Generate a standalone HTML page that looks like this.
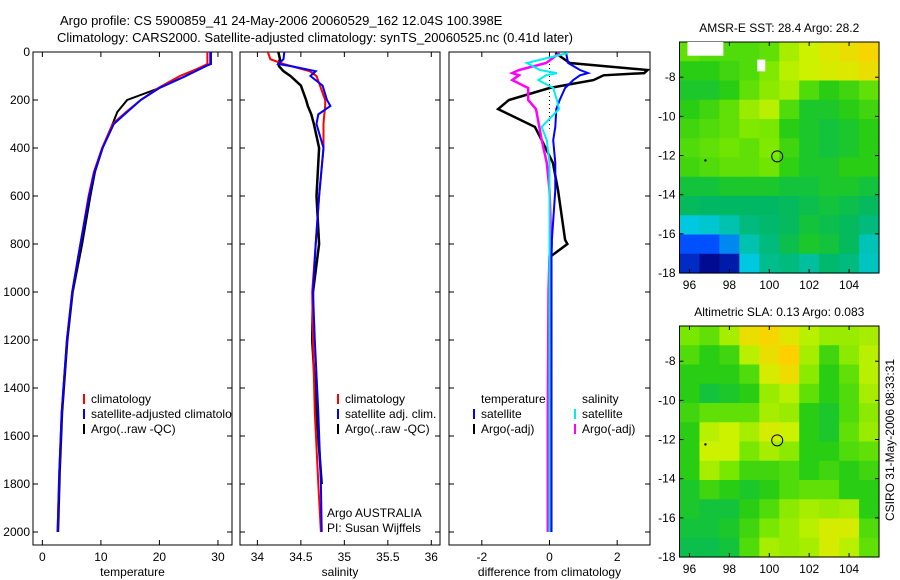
<!DOCTYPE html>
<html><head><meta charset="utf-8"><style>
body{margin:0;background:#fff}
svg{display:block;font-family:"Liberation Sans",sans-serif}
</style></head><body>
<svg id="fig" width="900" height="580" xmlns="http://www.w3.org/2000/svg">
<rect width="900" height="580" fill="#fff"/>
<text x="60" y="25" font-size="13">Argo profile: CS 5900859_41 24-May-2006 20060529_162 12.04S 100.398E</text>
<text x="57" y="42" font-size="13">Climatology: CARS2000. Satellite-adjusted climatology: synTS_20060525.nc (0.41d later)</text>
<defs>
<clipPath id="c1"><rect x="33" y="52" width="199" height="493"/></clipPath>
<clipPath id="c2"><rect x="240" y="52" width="200" height="493"/></clipPath>
<clipPath id="c3"><rect x="449" y="52" width="201" height="493"/></clipPath>
</defs>
<g id="plots"></g>
<text transform="translate(894,440) rotate(-90)" text-anchor="middle" font-size="12">CSIRO 31-May-2006 08:33:31</text>
</svg>
<script>
// ---------- data ----------
const depthT=[0,50,70,100,150,200,250,300,400,500,600,800,1000,1200,1500,1750,2000];
const tempClim=[28.2,28.2,26.5,23.5,19.8,16.8,14.3,12,10.2,8.8,7.9,6.5,5.1,4.2,3.3,2.9,2.6];
const tempSat=[28.7,28.7,27,24.5,20,16.8,14.5,12.2,10.3,8.9,8.0,6.5,5.1,4.2,3.3,2.9,2.6];
const tempArgo=[28.8,28.8,26.5,24.5,20,14.5,12.8,12,10.3,9,8.2,6.8,5.2,4.3,3.4,3.0,2.7];
const depthS=[0,30,50,60,80,100,140,200,225,260,300,400,600,800,1000,1200,1500,1800,2000];
const salClim=[34.12,34.15,34.3,34.4,34.6,34.68,34.72,34.78,34.78,34.77,34.76,34.76,34.71,34.67,34.63,34.64,34.66,34.7,34.73];
const salSat=[34.31,34.3,34.24,34.4,34.67,34.61,34.75,34.8,34.84,34.7,34.68,34.76,34.71,34.67,34.64,34.66,34.7,34.73,34.74];
const salArgo=[34.24,34.26,34.24,34.25,34.3,34.38,34.5,34.56,34.58,34.62,34.65,34.71,34.68,34.71,34.64,34.63,34.68,34.74,null];
const depthD=[4,46,75,88,97,117,150,200,238,312,367,462,575,783,800,850,1000,1500,2000];
const dTempArgo=[0.17,0.6,2.9,2.8,1.6,1.3,0,-1.2,-1.52,-0.43,-0.23,0.1,0.25,0.46,0.53,0.05,0.05,0.05,0.05];
const dTempSat=[0.49,0.55,0.9,1.14,0.9,0.7,0.46,0.3,0.2,0.17,0.11,0.17,0.17,0.07,0.07,0.06,0.05,0.05,0.05];
const dSalArgo=[0.3,-0.1,-0.9,-1.1,-0.9,-1.1,-0.63,-0.63,-0.4,-0.3,-0.23,-0.08,0,0.05,0.05,0,-0.03,-0.05,-0.05];
const dSalSat=[0.55,-0.67,-0.28,0.22,-0.1,-0.33,0.11,0.22,0.28,-0.23,-0.08,0,0,0,0,0,0,0,0];
const depthTicks=[0,200,400,600,800,1000,1200,1400,1600,1800,2000];
const tempTicks=[0,10,20,30], salTicks=[34,34.5,35,35.5,36], diffTicks=[-2,0,2];
const lonTicks=[96,98,100,102,104], latTicks=[-8,-10,-12,-14,-16,-18];
const sstGrid=[
[0.62,0.6,0.6,0.6,0.62,0.72,0.78,0.82,0.85,0.88],
[0.55,0.55,0.58,0.6,0.66,0.75,0.78,0.8,0.82,0.85],
[0.52,0.52,0.55,0.62,0.68,0.72,0.6,0.55,0.58,0.62],
[0.55,0.58,0.62,0.7,0.75,0.6,0.52,0.52,0.55,0.58],
[0.58,0.6,0.62,0.66,0.65,0.55,0.52,0.5,0.52,0.55],
[0.6,0.62,0.64,0.62,0.66,0.58,0.52,0.5,0.52,0.55],
[0.58,0.6,0.62,0.62,0.64,0.56,0.52,0.52,0.55,0.55],
[0.5,0.5,0.52,0.52,0.52,0.5,0.5,0.52,0.52,0.5],
[0.46,0.45,0.45,0.45,0.45,0.46,0.48,0.5,0.48,0.46],
[0.3,0.32,0.36,0.42,0.44,0.46,0.5,0.48,0.46,0.42],
[0.15,0.15,0.22,0.36,0.42,0.48,0.52,0.5,0.46,0.35],
[0.08,0.02,0.05,0.3,0.4,0.42,0.38,0.44,0.42,0.34]];
const slaGrid=[
[0.65,0.62,0.72,0.85,0.88,0.82,0.75,0.7,0.7,0.72],
[0.6,0.55,0.58,0.75,0.85,0.9,0.72,0.58,0.68,0.75],
[0.55,0.55,0.55,0.6,0.8,0.86,0.68,0.55,0.62,0.75],
[0.55,0.5,0.52,0.55,0.7,0.75,0.62,0.55,0.6,0.72],
[0.58,0.62,0.62,0.62,0.72,0.7,0.55,0.52,0.6,0.68],
[0.55,0.75,0.78,0.72,0.8,0.78,0.55,0.52,0.62,0.7],
[0.55,0.78,0.78,0.65,0.72,0.68,0.55,0.55,0.6,0.62],
[0.55,0.72,0.65,0.58,0.58,0.6,0.55,0.58,0.55,0.58],
[0.52,0.58,0.55,0.52,0.55,0.6,0.62,0.62,0.55,0.55],
[0.52,0.5,0.5,0.55,0.6,0.68,0.72,0.7,0.72,0.55],
[0.5,0.5,0.52,0.58,0.65,0.7,0.75,0.8,0.8,0.6],
[0.48,0.48,0.5,0.6,0.72,0.7,0.72,0.8,0.75,0.62]];
const argoLon=100.398, argoLat=-12.04;

// ---------- helpers ----------
const NS='http://www.w3.org/2000/svg';
const root=document.getElementById('plots');
function mk(tag,attrs,parent){const e=document.createElementNS(NS,tag);for(const k in attrs)e.setAttribute(k,attrs[k]);(parent||root).appendChild(e);return e;}
const yTop=52,yBot=545,dMax=(yBot-yTop)/0.24;
const yD=d=>yTop+d*(yBot-yTop)/dMax;
function xScale(x0,x1,v0,v1){return v=>x0+(v-v0)*(x1-x0)/(v1-v0);}
const panels=[
 {x0:33,x1:232,v0:-1.6,v1:32.4,ticks:tempTicks,label:'temperature',clip:'c1',name:'temperature-panel'},
 {x0:240,x1:440,v0:33.8,v1:36.1,ticks:salTicks,label:'salinity',clip:'c2',name:'salinity-panel'},
 {x0:449,x1:650,v0:-2.97,v1:2.97,ticks:diffTicks,label:'difference from climatology',clip:'c3',name:'difference-panel'}];
panels.forEach((p,i)=>{
 p.x=xScale(p.x0,p.x1,p.v0,p.v1);
 const g=mk('g',{});
 
 
 p.g=g;
 const fr=mk('rect',{x:p.x0,y:yTop,width:p.x1-p.x0,height:yBot-yTop,fill:'none',stroke:'#000','stroke-width':1},g);
 
 
 p.ticks.forEach(t=>{const X=p.x(t);
  mk('line',{x1:X,x2:X,y1:yBot,y2:yBot-5,stroke:'#000'},g);
  mk('line',{x1:X,x2:X,y1:yTop,y2:yTop+5,stroke:'#000'},g);
  const tl=mk('text',{x:X,y:yBot+16,'text-anchor':'middle','font-size':12},g);tl.textContent=t;
  
  
 });
 depthTicks.forEach(d=>{const Y=yD(d);
  mk('line',{x1:p.x0,x2:p.x0+5,y1:Y,y2:Y,stroke:'#000'},g);
  mk('line',{x1:p.x1,x2:p.x1-5,y1:Y,y2:Y,stroke:'#000'},g);
  if(i===0){const tl=mk('text',{x:p.x0-3,y:Y+4,'text-anchor':'end','font-size':12},g);tl.textContent=d;
   
   }
 });
 const xl=mk('text',{x:(p.x0+p.x1)/2,y:yBot+31,'text-anchor':'middle','font-size':12},g);xl.textContent=p.label;
 
 
});
function line(p,xs,ds,color,name,w,dash){
 let pts=[];xs.forEach((v,k)=>{if(v!==null)pts.push(p.x(v).toFixed(1)+','+yD(ds[k]).toFixed(1));});
 const pl=mk('polyline',{points:pts.join(' '),fill:'none',stroke:color,'stroke-width':w||2,'clip-path':'url(#'+p.clip+')'},p.g);
 if(dash)pl.setAttribute('stroke-dasharray',dash);
 
 
}
const P1=panels[0],P2=panels[1],P3=panels[2];
line(P1,tempArgo,depthT,'#000','argo-temperature-line');
line(P1,tempClim,depthT,'#f00','climatology-temperature-line');
line(P1,tempSat,depthT,'#00f','satellite-temperature-line');
line(P2,salArgo,depthS,'#000','argo-salinity-line',2.5);
line(P2,salClim,depthS,'#f00','climatology-salinity-line');
line(P2,salSat,depthS,'#00f','satellite-salinity-line');
const zl=mk('line',{x1:P3.x(0),x2:P3.x(0),y1:yTop,y2:yD(320),stroke:'#000','stroke-dasharray':'1,3'},P3.g);


line(P3,dTempArgo,depthD,'#000','argo-temperature-diff-line',2.5);
line(P3,dSalArgo,depthD,'#f0f','argo-salinity-diff-line',2.5);
line(P3,dTempSat,depthD,'#00f','satellite-temperature-diff-line');
line(P3,dSalSat,depthD,'#0ee','satellite-salinity-diff-line');
// legends
function leg(g,x,y,color,text,clip,name){
 const m=mk('line',{x1:x,x2:x,y1:y-9,y2:y+1,stroke:color,'stroke-width':2},g);
 const t=mk('text',{x:x+7,y:y,'font-size':12,'clip-path':clip?'url(#'+clip+')':''},g);t.textContent=text;
 
 
}
leg(P1.g,84,403,'#f00','climatology','c1','legend-entry-climatology');
leg(P1.g,84,418,'#00f','satellite-adjusted climatology','c1','legend-entry-satellite');
leg(P1.g,84,433,'#000','Argo(..raw -QC)','c1','legend-entry-argo');
leg(P2.g,338,403,'#f00','climatology','','legend-entry-climatology');
leg(P2.g,338,418,'#00f','satellite adj. clim.','','legend-entry-satellite');
leg(P2.g,338,433,'#000','Argo(..raw -QC)','','legend-entry-argo');
let t1=mk('text',{x:481,y:403,'font-size':12},P3.g);t1.textContent='temperature';


let t2=mk('text',{x:582,y:403,'font-size':12},P3.g);t2.textContent='salinity';


leg(P3.g,474,418,'#00f','satellite','','legend-entry-temp-satellite');
leg(P3.g,474,433,'#000','Argo(-adj)','','legend-entry-temp-argo');
leg(P3.g,575,418,'#0ee','satellite','','legend-entry-sal-satellite');
leg(P3.g,575,433,'#f0f','Argo(-adj)','','legend-entry-sal-argo');
let a1=mk('text',{x:327,y:517,'font-size':12},P2.g);a1.textContent='Argo AUSTRALIA';


let a2=mk('text',{x:327,y:532,'font-size':12},P2.g);a2.textContent='PI: Susan Wijffels';



// ---------- maps ----------
const stops=[[0,[0,0,128]],[0.15,[0,80,255]],[0.3,[0,200,224]],[0.45,[0,184,100]],[0.55,[40,205,20]],[0.65,[120,232,0]],[0.78,[205,242,0]],[0.9,[255,208,0]],[1,[255,144,0]]];
function cmap(v){for(let i=1;i<stops.length;i++){if(v<=stops[i][0]){const a=stops[i-1],b=stops[i],f=(v-a[0])/(b[0]-a[0]);
 return 'rgb('+a[1].map((c,k)=>Math.round(c+f*(b[1][k]-c))).join(',')+')';}}return 'rgb(255,144,0)';}
function map(top,grid,title,name){
 const L=679.5,R=879,B=top+231,lon0=95.5,lon1=105.5,lat0=-6.2,lat1=-18;
 const X=v=>L+(v-lon0)*(R-L)/(lon1-lon0), Y=v=>top+(v-lat0)*(B-top)/(lat1-lat0);
 const g=mk('g',{});
 
 
 const rows=grid.length,cols=grid[0].length,cw=(R-L)/cols,ch=(B-top)/rows;
 grid.forEach((row,r)=>row.forEach((v,c)=>{
  const cell=mk('rect',{x:(L+c*cw).toFixed(2),y:(top+r*ch).toFixed(2),width:(cw+0.6).toFixed(2),height:(ch+0.6).toFixed(2),fill:cmap(v)},g);
  
  
 }));
 mk('rect',{x:L,y:top,width:R-L,height:B-top,fill:'none',stroke:'#000'},g);
 lonTicks.forEach(t=>{mk('line',{x1:X(t),x2:X(t),y1:B,y2:B-4,stroke:'#000'},g);mk('line',{x1:X(t),x2:X(t),y1:top,y2:top+4,stroke:'#000'},g);
  const tl=mk('text',{x:X(t),y:B+16,'text-anchor':'middle','font-size':12},g);tl.textContent=t;
  
  });
 latTicks.forEach(t=>{mk('line',{x1:L,x2:L+4,y1:Y(t),y2:Y(t),stroke:'#000'},g);mk('line',{x1:R,x2:R-4,y1:Y(t),y2:Y(t),stroke:'#000'},g);
  const tl=mk('text',{x:L-4,y:Y(t)+4,'text-anchor':'end','font-size':12},g);tl.textContent=t;
  
  });
 const c=mk('circle',{cx:X(argoLon),cy:Y(argoLat),r:5.5,fill:'none',stroke:'#000'},g);
 
 
 mk('circle',{cx:X(96.8),cy:Y(-12.25),r:1.2,fill:'#000'},g);
 const tt=mk('text',{x:(L+R)/2,y:top-10,'text-anchor':'middle','font-size':12},g);tt.textContent=title;
 
 
 return {g,X,Y};
}
const m1=map(42,sstGrid,'AMSR-E SST: 28.4 Argo: 28.2','sst-map');
mk('rect',{x:m1.X(95.9),y:42,width:m1.X(97.7)-m1.X(95.9),height:m1.Y(-6.9)-42,fill:'#fff'},m1.g);
mk('rect',{x:m1.X(99.4),y:m1.Y(-7.1),width:m1.X(99.8)-m1.X(99.4),height:m1.Y(-7.7)-m1.Y(-7.1),fill:'#fff'},m1.g);
map(326,slaGrid,'Altimetric SLA: 0.13 Argo: 0.083','sla-map');
</script>
</body></html>
